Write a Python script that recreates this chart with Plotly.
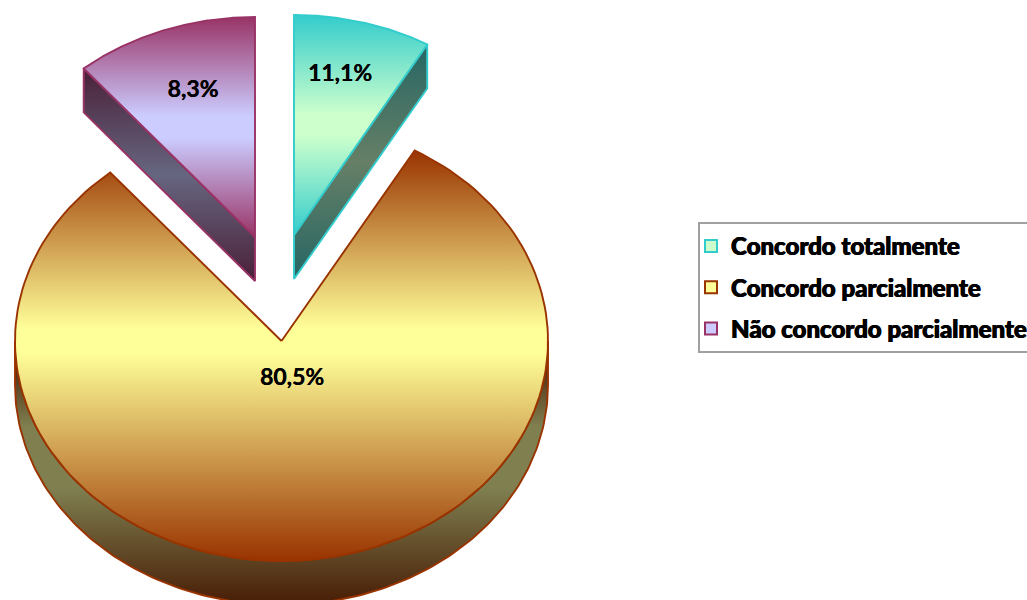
import numpy as np
import plotly.graph_objects as go

# Data
categories = ["Concordo totalmente", "Concordo parcialmente", "Não concordo parcialmente"]
# Drawn slice shares (the picture's slices: teal narrower than purple)
slice_shares = [8.33, 80.56, 11.11]
# Printed labels, as they appear in the picture
slice_labels = ["11,1%", "80,5%", "8,3%"]

# Layout of the drawing (pixels of the 1027x600 page)
CX, CY, RX, RY, DEPTH = 281.5, 341.0, 266.5, 220.0, 44.0
OFFSETS = [(12.5, -106.0), (0.0, 0.0), (-26.5, -104.0)]
LABEL_POS = [(340, 75), (292, 379), (193, 91)]

EDGE = ["#33CCCC", "#993300", "#993366"]
LIGHT = ["#CCFFCC", "#FFFF99", "#CCCCFF"]
SIDE_MID = ["#667F66", "#7F7F50", "#666680"]
SIDE_END = ["#266664", "#4A2008", "#4A2038"]

def arc(a0, a1, cx, cy):
    t = np.radians(np.linspace(a0, a1, 160))
    return cx + RX * np.sin(t), cy - RY * np.cos(t)

fig = go.Figure()
angles = np.concatenate([[0], np.cumsum(slice_shares) / np.sum(slice_shares) * 360])

def add(xs, ys, edge, scale, y0, y1, lw=1.9):
    fig.add_trace(go.Scatter(
        x=xs, y=ys, mode="lines", fill="toself", showlegend=False, hoverinfo="skip",
        line=dict(color=edge, width=lw),
        fillgradient=dict(type="vertical", colorscale=scale, start=y0, stop=y1),
    ))

# big slice first, then the two exploded ones
for i in [1, 2, 0]:
    a0, a1 = angles[i], angles[i + 1]
    cx, cy = CX + OFFSETS[i][0], CY + OFFSETS[i][1]
    if i == 1:
        # outer rim, front half only
        ax, ay = arc(90, 270, cx, cy)
        add(np.r_[ax, ax[::-1], ax[0]], np.r_[ay, ay[::-1] + DEPTH, ay[0]], EDGE[i],
            [[0, SIDE_END[i]], [0.07, SIDE_END[i]], [0.33, SIDE_MID[i]],
             [0.57, SIDE_MID[i]], [1, SIDE_END[i]]], cy, cy + RY + DEPTH - 5)
    else:
        # flat cut face visible below the slice
        edge_a = a1 if i == 0 else a0
        ex, ey = arc(edge_a, edge_a, cx, cy)
        add([cx, ex[0], ex[0], cx, cx], [cy, ey[0], ey[0] + DEPTH, cy + DEPTH, cy], EDGE[i],
            [[0, SIDE_END[i]], [0.5, SIDE_MID[i]], [1, SIDE_END[i]]], ey[0], cy + DEPTH)
    ax, ay = arc(a0, a1, cx, cy)
    px, py = np.r_[cx, ax, cx], np.r_[cy, ay, cy]
    y0, y1 = py.min(), py.max()
    if i == 1:
        mid0 = (cy - 12 - y0) / (y1 - y0)
        mid1 = (cy + 12 - y0) / (y1 - y0)
        scale = [[0, EDGE[i]], [mid0, LIGHT[i]], [mid1, LIGHT[i]], [1, EDGE[i]]]
    else:
        scale = [[0, EDGE[i]], [0.45, LIGHT[i]], [0.55, LIGHT[i]], [1, EDGE[i]]]
    add(px, py, EDGE[i], scale, y0, y1)

# value labels
fig.add_trace(go.Scatter(
    x=[p[0] for p in LABEL_POS], y=[p[1] for p in LABEL_POS], text=slice_labels,
    mode="text", showlegend=False, hoverinfo="skip", textposition="middle center",
    textfont=dict(family="Lato", size=23, color="#000000", weight=700,
                  shadow="0.3px 0 0 #000"),
))

# legend entries
for i, name in enumerate(categories):
    fig.add_trace(go.Scatter(
        x=[None], y=[None], mode="markers", name=name, legendgroup=name,
        marker=dict(symbol="square", size=14, color=LIGHT[i], line=dict(color=EDGE[i], width=2.5)),
    ))

fig.update_layout(
    width=1027, height=600, margin=dict(l=0, r=0, t=0, b=0, autoexpand=False),
    paper_bgcolor="#FFFFFF", plot_bgcolor="#FFFFFF",
    xaxis=dict(range=[0, 1027], visible=False, fixedrange=True),
    yaxis=dict(range=[600, 0], visible=False, fixedrange=True),
    legend=dict(
        x=698 / 1027, xanchor="left", y=1 - 222 / 600, yanchor="top",
        bgcolor="#FFFFFF", bordercolor="#A0A0A0", borderwidth=2,
        font=dict(family="Lato", size=24, color="#000000", weight=900,
                  shadow="0.6px 0 0 #000, -0.4px 0 0 #000"),
        tracegroupgap=7, indentation=-9, itemsizing="constant",
    ),
)
fig.write_html("out.html", config=dict(displayModeBar=False),
               post_script="document.body.style.margin='0';document.body.style.overflow='hidden';")
